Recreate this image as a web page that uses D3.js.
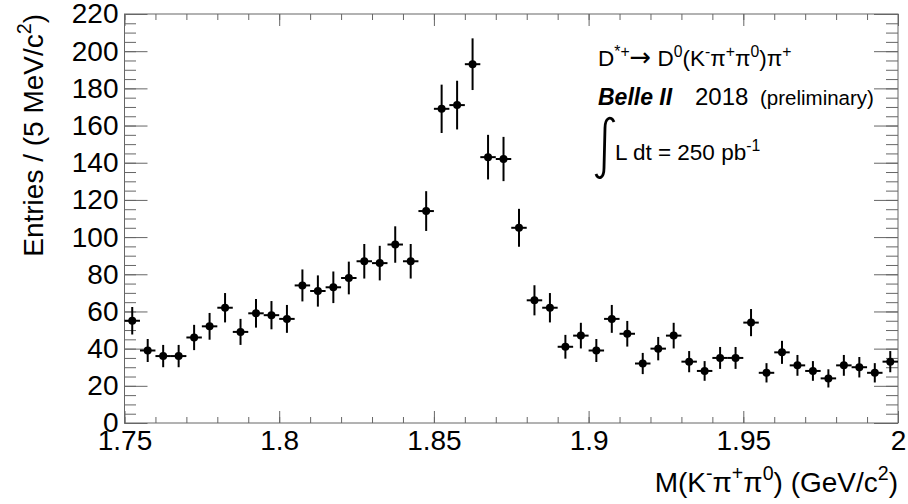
<!DOCTYPE html>
<html>
<head>
<meta charset="utf-8">
<script src="https://cdn.jsdelivr.net/npm/d3@7"></script>
<style>
  body { margin: 0; background: #fff; }
  text { font-family: "Liberation Sans", Arial, sans-serif; fill: #000; }
</style>
</head>
<body>
<div id="chart"></div>
<script>
// Bin centres (GeV/c^2), 5 MeV bins
const binCenters = [
  1.7525, 1.7575, 1.7625, 1.7675, 1.7725, 1.7775, 1.7825, 1.7875, 1.7925, 1.7975,
  1.8025, 1.8075, 1.8125, 1.8175, 1.8225, 1.8275, 1.8325, 1.8375, 1.8425, 1.8475,
  1.8525, 1.8575, 1.8625, 1.8675, 1.8725, 1.8775, 1.8825, 1.8875, 1.8925, 1.8975,
  1.9025, 1.9075, 1.9125, 1.9175, 1.9225, 1.9275, 1.9325, 1.9375, 1.9425, 1.9475,
  1.9525, 1.9575, 1.9625, 1.9675, 1.9725, 1.9775, 1.9825, 1.9875, 1.9925, 1.9975
];
// Entries per bin
const counts = [
  55, 39, 36, 36, 46, 52, 62, 49, 59, 58,
  56, 74, 71, 73, 78, 87, 86, 96, 87, 114,
  169, 171, 193, 143, 142, 105, 66, 62, 41, 47,
  39, 56, 48, 32, 40, 47, 33, 28, 35, 35,
  54, 27, 38, 31, 28, 24, 31, 30, 27, 33
];
// Error bar half-lengths
const errors = [
  7.4, 6.2, 6.0, 6.0, 6.8, 7.2, 7.9, 7.0, 7.7, 7.6,
  7.5, 8.6, 8.4, 8.5, 8.8, 9.3, 9.3, 9.8, 9.3, 10.7,
  13.0, 13.1, 13.9, 12.0, 11.9, 10.2, 8.1, 7.9, 6.4, 6.9,
  6.2, 7.5, 6.9, 5.7, 6.3, 6.9, 5.7, 5.3, 5.9, 5.9,
  7.3, 5.2, 6.2, 5.6, 5.3, 4.9, 5.6, 5.5, 5.2, 5.7
];
const halfBin = 0.0025;

const xMajor = [1.75, 1.8, 1.85, 1.9, 1.95, 2.0];
const yMajor = [0, 20, 40, 60, 80, 100, 120, 140, 160, 180, 200, 220];

const W = 908, H = 504;
const margin = { top: 14, right: 10, bottom: 81, left: 124.5 };

const svg = d3.select("#chart").append("svg")
    .attr("width", W)
    .attr("height", H);

const x = d3.scaleLinear()
    .domain([1.75, 2.0])
    .range([margin.left, W - margin.right]);

const y = d3.scaleLinear()
    .domain([0, 220])
    .range([H - margin.bottom, margin.top]);

const xMinor = d3.range(1.75, 2.0001, 0.01);
const yMinor = d3.range(0, 221, 5);

const tickColor = "#666";

function styleAxis(g) {
    g.select(".domain").remove();
    g.selectAll(".tick line").attr("stroke", tickColor).attr("stroke-width", 1);
}

// bottom axis
svg.append("g")
    .attr("transform", `translate(0,${y(0)})`)
    .call(d3.axisBottom(x).tickValues(xMinor).tickSize(-6).tickFormat(""))
    .call(styleAxis);
svg.append("g")
    .attr("transform", `translate(0,${y(0)})`)
    .call(d3.axisBottom(x).tickValues(xMajor).tickSize(-12).tickPadding(7).tickFormat(d3.format("~g")))
    .call(styleAxis)
    .call(g => g.selectAll("text").style("font-size", "28px").attr("fill", "#000"));

// top axis
svg.append("g")
    .attr("transform", `translate(0,${y(220)})`)
    .call(d3.axisTop(x).tickValues(xMinor).tickSize(-6).tickFormat(""))
    .call(styleAxis);
svg.append("g")
    .attr("transform", `translate(0,${y(220)})`)
    .call(d3.axisTop(x).tickValues(xMajor).tickSize(-12).tickFormat(""))
    .call(styleAxis);

// left axis
svg.append("g")
    .attr("transform", `translate(${x(1.75)},0)`)
    .call(d3.axisLeft(y).tickValues(yMinor).tickSize(-11.5).tickFormat(""))
    .call(styleAxis);
svg.append("g")
    .attr("transform", `translate(${x(1.75)},0)`)
    .call(d3.axisLeft(y).tickValues(yMajor).tickSize(-23).tickPadding(6).tickFormat(d3.format("d")))
    .call(styleAxis)
    .call(g => g.selectAll("text")
        .style("font-size", "28px")
        .attr("fill", "#000"));

// right axis
svg.append("g")
    .attr("transform", `translate(${x(2.0)},0)`)
    .call(d3.axisRight(y).tickValues(yMinor).tickSize(-12).tickFormat(""))
    .call(styleAxis);
svg.append("g")
    .attr("transform", `translate(${x(2.0)},0)`)
    .call(d3.axisRight(y).tickValues(yMajor).tickSize(-24).tickFormat(""))
    .call(styleAxis);

// frame
svg.append("rect")
    .attr("x", x(1.75))
    .attr("y", y(220))
    .attr("width", x(2.0) - x(1.75))
    .attr("height", y(0) - y(220))
    .attr("fill", "none")
    .attr("stroke", tickColor)
    .attr("stroke-width", 1);

// data points with error bars
const pts = binCenters.map((c, i) => ({ c: c, v: counts[i], e: errors[i] }));

const marks = svg.append("g");
marks.selectAll(".ex")
    .data(pts)
  .enter().append("line")
    .attr("x1", d => x(d.c - halfBin))
    .attr("x2", d => x(d.c + halfBin))
    .attr("y1", d => y(d.v))
    .attr("y2", d => y(d.v))
    .attr("stroke", "#000")
    .attr("stroke-width", 2);
marks.selectAll(".ey")
    .data(pts)
  .enter().append("line")
    .attr("x1", d => x(d.c))
    .attr("x2", d => x(d.c))
    .attr("y1", d => y(d.v - d.e))
    .attr("y2", d => y(d.v + d.e))
    .attr("stroke", "#000")
    .attr("stroke-width", 2);
marks.selectAll("circle")
    .data(pts)
  .enter().append("circle")
    .attr("cx", d => x(d.c))
    .attr("cy", d => y(d.v))
    .attr("r", 4)
    .attr("fill", "#000");

// text with superscripts
function rich(t, parts, fs) {
    let raised = false;
    parts.forEach(p => {
        const ts = t.append("tspan").text(p[0]);
        if (p[1] === "sup") {
            ts.style("font-size", (fs * 0.7) + "px");
            if (!raised) ts.attr("dy", -0.42 * fs);
            raised = true;
        } else {
            if (raised) ts.attr("dy", 0.42 * fs);
            raised = false;
            if (p[1] === "arrow") ts.style("font-family", "'DejaVu Sans'").style("font-size", (fs * 1.15) + "px");
        }
    });
}

// axis titles
const xt = svg.append("text")
    .attr("x", x(2.0))
    .attr("y", 492)
    .attr("text-anchor", "end")
    .style("font-size", "28px");
rich(xt, [["M(K"], ["-", "sup"], ["π"], ["+", "sup"], ["π"], ["0", "sup"], [") (GeV/c"], ["2", "sup"], [")"]], 28);

const yt = svg.append("text")
    .attr("transform", `translate(43,${y(220)}) rotate(-90)`)
    .attr("text-anchor", "end")
    .style("font-size", "28px");
rich(yt, [["Entries / (5 MeV/c"], ["2", "sup"], [")"]], 28);

// annotations
const l1 = svg.append("text")
    .attr("x", 598)
    .attr("y", 66)
    .style("font-size", "22.5px");
rich(l1, [["D"], ["*+", "sup"], ["→", "arrow"], [" D"], ["0", "sup"], ["(K"], ["-", "sup"], ["π"], ["+", "sup"], ["π"], ["0", "sup"], [")π"], ["+", "sup"]], 22.5);

svg.append("text")
    .attr("x", 598)
    .attr("y", 105)
    .style("font-size", "23px")
    .style("font-weight", "bold")
    .style("font-style", "italic")
    .text("Belle II");
svg.append("text")
    .attr("x", 695)
    .attr("y", 105)
    .style("font-size", "24px")
    .text("2018");
svg.append("text")
    .attr("x", 760)
    .attr("y", 105)
    .style("font-size", "20.5px")
    .text("(preliminary)");

svg.append("path")
    .attr("d", "M614,122 C611,115 605,118 605,128 L604,168 C604,179 598,180 596,174")
    .attr("fill", "none")
    .attr("stroke", "#000")
    .attr("stroke-width", 2.8);

const l3 = svg.append("text")
    .attr("x", 615)
    .attr("y", 160)
    .style("font-size", "22.5px");
rich(l3, [["L dt = 250 pb"], ["-1", "sup"]], 22.5);
</script>
</body>
</html>
